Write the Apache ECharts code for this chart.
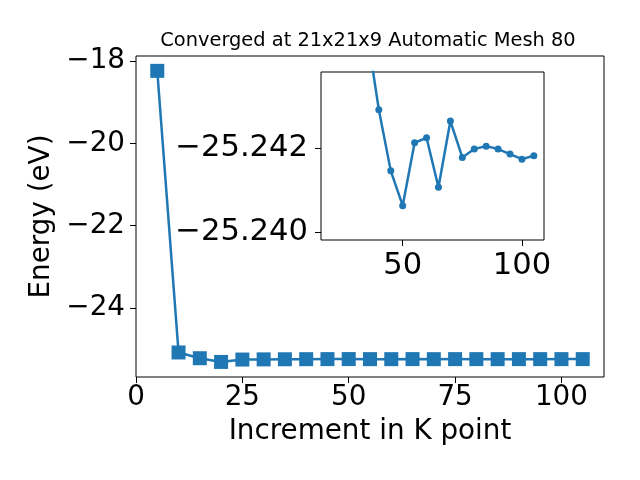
<!DOCTYPE html>
<html>
<head>
<meta charset="utf-8">
<script src="https://cdn.jsdelivr.net/npm/echarts@6/dist/echarts.min.js"></script>
<style>html,body{margin:0;padding:0;background:#fff}#c{width:640px;height:480px}</style>
</head>
<body>
<div id="c"></div>
<script>
// K point increments
const kPoints = [5, 10, 15, 20, 25, 30, 35, 40, 45, 50, 55, 60, 65, 70, 75, 80, 85, 90, 95, 100, 105];
// Energies (eV)
const energies = [-18.24, -25.08, -25.22, -25.31, -25.252, -25.248, -25.2448, -25.24292, -25.24146, -25.24063,
  -25.24213, -25.24225, -25.24107, -25.24265, -25.24178, -25.24198, -25.24205, -25.24198, -25.24186, -25.24174, -25.24182];
// inset shows points from this K onward
const insetStartK = 20;
const mainXTicks = [0, 25, 50, 75, 100];
const mainYTicks = [-24, -22, -20, -18];
const insetXTicks = [50, 100];
const insetYTicks = [-25.242, -25.240];
const titleText = 'Converged at 21x21x9 Automatic Mesh 80';
const xLabel = 'Increment in K point';
const yLabel = 'Energy (eV)';

const mainData = kPoints.map((k, i) => [k, energies[i]]);
const insetData = mainData.filter(d => d[0] >= insetStartK);

const FONT = 'DejaVu Sans';
const FS = 27.8;
const FS_IN = 30.6;
const C = '#1f77b4';
const minus = s => String(s).replace('-', '\u2212');

const chart = echarts.init(document.getElementById('c'), null, {renderer: 'canvas'});
chart.setOption({
  animation: false,
  backgroundColor: '#fff',
  title: {
    text: titleText, left: 368, textAlign: 'center', top: 31, padding: 0,
    textStyle: {fontFamily: FONT, fontSize: 19.4, fontWeight: 'normal', color: '#000'}
  },
  grid: [
    {left: 136, top: 56, width: 468, height: 321, show: true, borderColor: '#000', borderWidth: 1, backgroundColor: 'transparent', z: 0},
    {left: 321, top: 72, width: 223, height: 168, show: true, borderColor: '#000', borderWidth: 1, backgroundColor: '#fff', z: 5}
  ],
  xAxis: [
    {
      gridIndex: 0, type: 'value', min: 0, max: 110,
      axisLine: {show: false}, splitLine: {show: false},
      axisTick: {show: true, inside: false, length: 6, lineStyle: {color: '#000'}, customValues: mainXTicks},
      axisLabel: {customValues: mainXTicks, margin: 7, fontFamily: FONT, fontSize: FS, color: '#000', formatter: v => minus(v)},
      name: xLabel, nameLocation: 'middle', nameGap: 41,
      nameTextStyle: {fontFamily: FONT, fontSize: FS, color: '#000'}
    },
    {
      gridIndex: 1, type: 'value', min: 15.75, max: 109.25, z: 6,
      axisLine: {show: false}, splitLine: {show: false},
      axisTick: {show: true, inside: false, length: 6, lineStyle: {color: '#000'}, customValues: insetXTicks},
      axisLabel: {customValues: insetXTicks, margin: 11, fontFamily: FONT, fontSize: FS_IN, color: '#000'}
    }
  ],
  yAxis: [
    {
      gridIndex: 0, type: 'value', min: -25.676, max: -17.879,
      axisLine: {show: false}, splitLine: {show: false},
      axisTick: {show: true, inside: false, length: 6, lineStyle: {color: '#000'}, customValues: mainYTicks},
      axisLabel: {customValues: mainYTicks, margin: 11, padding: [5, 0, 0, 0], fontFamily: FONT, fontSize: FS, color: '#000', formatter: v => minus(v)},
      name: yLabel, nameLocation: 'middle', nameGap: 71, nameRotate: 90,
      nameTextStyle: {fontFamily: FONT, fontSize: FS, color: '#000'}
    },
    {
      gridIndex: 1, type: 'value', inverse: true, min: -25.24382, max: -25.23981, z: 6,
      axisLine: {show: false}, splitLine: {show: false},
      axisTick: {show: true, inside: false, length: 6, lineStyle: {color: '#000'}, customValues: insetYTicks},
      axisLabel: {customValues: insetYTicks, margin: 13, padding: [5, 0, 0, 0], fontFamily: FONT, fontSize: FS_IN, color: '#000', formatter: v => minus(v.toFixed(3))}
    }
  ],
  series: [
    {
      type: 'line', xAxisIndex: 0, yAxisIndex: 0, data: mainData, z: 2,
      symbol: 'rect', symbolSize: 14, showAllSymbol: true,
      lineStyle: {color: C, width: 2.5}, itemStyle: {color: C}
    },
    {
      type: 'line', xAxisIndex: 1, yAxisIndex: 1, data: insetData, z: 10, clip: true,
      symbol: 'circle', symbolSize: 7, showAllSymbol: true,
      lineStyle: {color: C, width: 2.5}, itemStyle: {color: C}
    }
  ]
});
</script>
</body>
</html>
